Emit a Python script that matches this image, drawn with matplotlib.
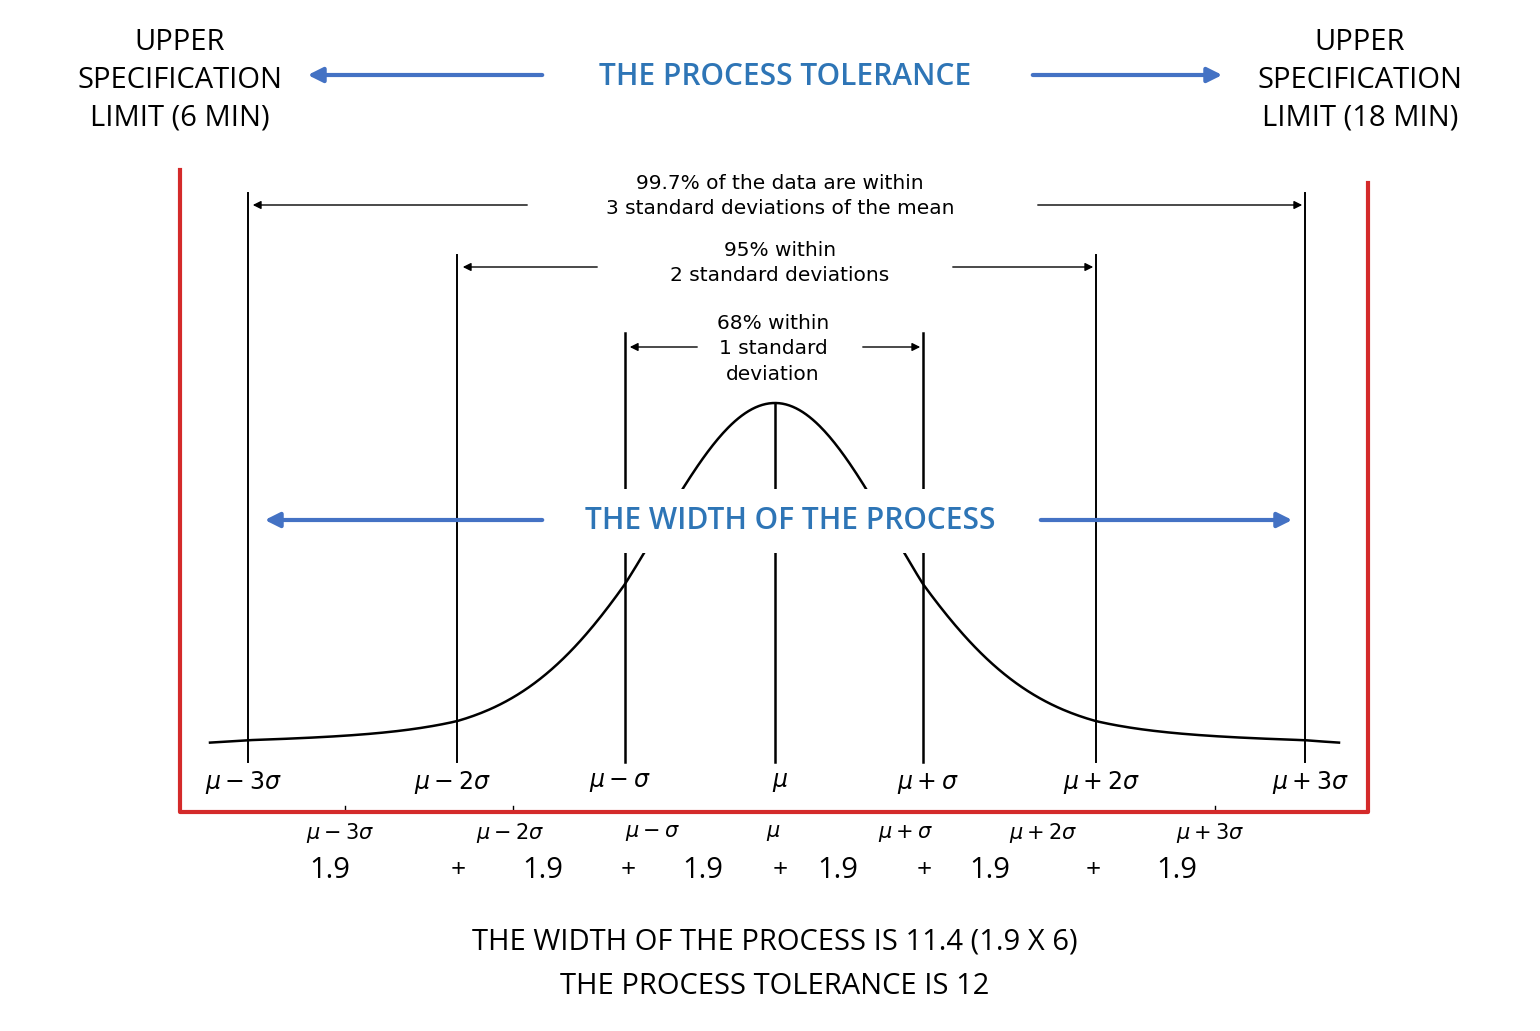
import numpy as np
import matplotlib
matplotlib.use("Agg")
import matplotlib.pyplot as plt

sigma_units = [-3, -2, -1, 0, 1, 2, 3]
sigma_labels = [r"$\mu-3\sigma$", r"$\mu-2\sigma$", r"$\mu-\sigma$", r"$\mu$",
                r"$\mu+\sigma$", r"$\mu+2\sigma$", r"$\mu+3\sigma$"]
sigma_width_values = [1.9, 1.9, 1.9, 1.9, 1.9, 1.9]
coverage_texts = ["99.7% of the data are within\n3 standard deviations of the mean",
                  "95% within\n2 standard deviations",
                  "68% within\n1 standard\ndeviation"]

# layout (pixels)
sig_px = [248, 457, 625, 775, 923, 1096, 1305]
base_y, peak_y = 750, 403
line_tops = {3: 193, 2: 255, 1: 333}

fig = plt.figure(figsize=(15.4, 10.31), dpi=100)
ax = fig.add_axes([0, 0, 1, 1])
ax.set_xlim(0, 1540); ax.set_ylim(1031, 0); ax.axis("off")

blue = "#2E75B6"; ablue = "#4472C4"; red = "#D42A2A"
sans = "Open Sans"; ann = "DejaVu Sans"

# normal curve
u = np.linspace(-3.4, 3.4, 600)
pdf = np.exp(-0.5 * (u * 1.27) ** 2) * 0.93 + 0.07 * np.exp(-0.5 * (u / 2.2) ** 2)
xpx = np.interp(u, sigma_units, sig_px)
xpx = np.where(u < -3, 248 + (u + 3) * 95, xpx)
xpx = np.where(u > 3, 1305 + (u - 3) * 85, xpx)
ax.plot(xpx, base_y - pdf * (base_y - peak_y), color="black", lw=1.8, zorder=2)

# vertical sigma lines
for s, x in zip(sigma_units, sig_px):
    top = peak_y if s == 0 else line_tops[abs(s)]
    ax.plot([x, x], [top, 762], color="black", lw=1.8 if abs(s) <= 1 else 1.4, zorder=2)

def arr(x0, x1, y, color="black", lw=1.0, ms=12):
    ax.annotate("", xy=(x1, y), xytext=(x0, y),
                arrowprops=dict(arrowstyle="-|>", color=color, lw=lw, mutation_scale=ms), zorder=4)

# coverage annotations
arr(530, 250, 205); arr(1035, 1305, 205)
ax.text(780, 196, coverage_texts[0], ha="center", va="center", fontsize=14.5, family=ann,
        linespacing=1.45, zorder=5)
arr(600, 460, 267); arr(950, 1096, 267)
ax.text(780, 263, coverage_texts[1], ha="center", va="center", fontsize=14.5, family=ann,
        linespacing=1.45, zorder=5)
arr(700, 627, 347); arr(860, 923, 347)
ax.text(773, 349, coverage_texts[2], ha="center", va="center", fontsize=14.5, family=ann,
        linespacing=1.45, zorder=5, bbox=dict(fc="white", ec="none", pad=1))

# blue annotations
ax.text(180, 80, "UPPER\nSPECIFICATION\nLIMIT (6 MIN)", ha="center", va="center",
        fontsize=21, family=sans, linespacing=1.4)
ax.text(1360, 80, "UPPER\nSPECIFICATION\nLIMIT (18 MIN)", ha="center", va="center",
        fontsize=21, family=sans, linespacing=1.4)
ax.text(785, 77, "THE PROCESS TOLERANCE", ha="center", va="center", fontsize=21.5,
        family=sans, weight="semibold", color=blue)
arr(545, 305, 75, ablue, 3, 22); arr(1030, 1225, 75, ablue, 3, 22)
ax.text(790, 521, "THE WIDTH OF THE PROCESS", ha="center", va="center", fontsize=21.5,
        family=sans, weight="semibold", color=blue, zorder=5,
        bbox=dict(fc="white", ec="none", pad=12))
arr(545, 262, 520, ablue, 3, 22); arr(1038, 1295, 520, ablue, 3, 22)

# red spec frame
ax.plot([180, 180, 1368, 1368], [170, 812, 812, 183], color=red, lw=3, zorder=3)

# sigma labels
for lab, x in zip(sigma_labels, sig_px):
    ax.text(x - 5 if x < 775 else x + 5, 783, lab, ha="center", va="center", fontsize=17,
            family="DejaVu Serif")
for x in [345, 513, 1215]:
    ax.plot([x, x], [806, 810], color="black", lw=1)

row2_x = [340, 510, 652, 773, 905, 1043, 1210]
for lab, x in zip(sigma_labels, row2_x):
    ax.text(x, 833, lab, ha="center", va="center", fontsize=15)
val_x = [330, 543, 703, 838, 990, 1177]
for v, x in zip(sigma_width_values, val_x):
    ax.text(x, 870, f"{v}", ha="center", va="center", fontsize=21, family=sans)
for x in [458, 628, 780, 924, 1093]:
    ax.text(x, 870, "+", ha="center", va="center", fontsize=19, family=sans)

total = round(sum(sigma_width_values), 1)
ax.text(775, 942, f"THE WIDTH OF THE PROCESS IS {total} (1.9 X 6)", ha="center", va="center",
        fontsize=21, family=sans)
ax.text(775, 987, "THE PROCESS TOLERANCE IS 12", ha="center", va="center",
        fontsize=21, family=sans)

fig.savefig("out.png", dpi=100, facecolor="white")
